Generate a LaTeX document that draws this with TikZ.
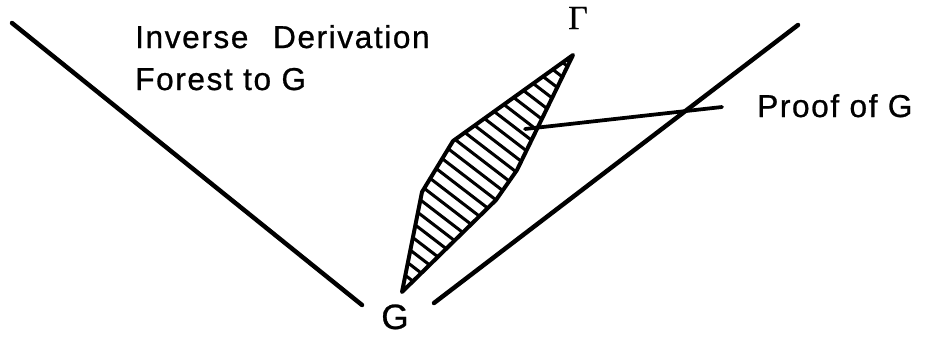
\documentclass[tikz,border=0pt]{standalone}
\usepackage{fontspec}
\usepackage{tikz}
\newfontfamily\lblfont[LetterSpace=5,FakeBold=0.8]{Liberation Sans}
\newfontfamily\greekfont[FakeBold=0.5]{Liberation Serif}

\begin{document}
\begin{tikzpicture}[x=0.03cm,y=-0.03cm,
  edge/.style={line width=3.8pt,line cap=round},
  rim/.style={line width=3.4pt,line join=round},
  hatchline/.style={line width=2.6pt},
  lbl/.style={font=\lblfont\fontsize{27}{36}\selectfont,inner sep=0pt}]
  \useasboundingbox (0,0) rectangle (929,336);
  % sides of the forest
  \coordinate (lTop) at (12,23);
  \coordinate (lBot) at (362,305);
  \coordinate (rTop) at (798,25);
  \coordinate (rBot) at (434,303);
  \draw[edge] (lTop) -- (lBot);
  \draw[edge] (rTop) -- (rBot);
  % the proof, hatched
  \coordinate (p1) at (402,292);
  \coordinate (p2) at (422,192);
  \coordinate (p3) at (453,141);
  \coordinate (p4) at (573,55);
  \coordinate (p5) at (517,170);
  \coordinate (p6) at (496,200);
  \begin{scope}
    \clip (p1) -- (p2) -- (p3) -- (p4) -- (p5) -- (p6) -- cycle;
    \foreach \y in {-400,-385.5,...,300}
      \draw[hatchline] (300,\y) -- ++(400,307);
  \end{scope}
  \draw[rim] (p1) -- (p2) -- (p3) -- (p4) -- (p5) -- (p6) -- cycle;
  % labels
  \node[lbl,anchor=base west] (inv) at (135,48) {Inverse\hspace{0.45em} Derivation};
  \node[lbl,anchor=base west] (forest) at (135,90) {Forest to G};
  \node[lbl,anchor=base west] (proof) at (757,117) {Proof of G};
  \node[font=\greekfont\fontsize{29}{30}\selectfont,inner sep=0pt] (gamma) at (578,18) {Γ};
  \node[lbl,font=\lblfont\fontsize{30}{30}\selectfont,anchor=base] (goal) at (395,329) {G};
  % pointer to the proof
  \coordinate (pin) at (525,129);
  \coordinate (pinEnd) at (722,107);
  \draw[edge,line width=3.2pt] (pin) -- (pinEnd);
\end{tikzpicture}
\end{document}
